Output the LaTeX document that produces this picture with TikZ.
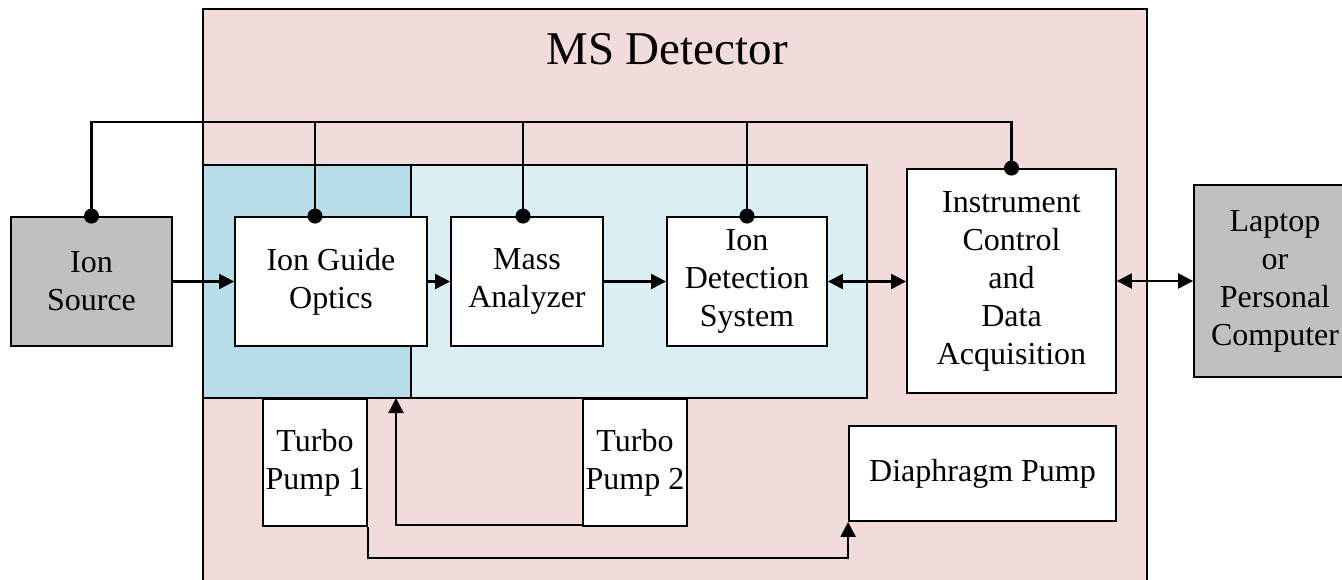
\documentclass[tikz,border=0pt]{standalone}
\usepackage{fontspec}
\setmainfont{Liberation Serif}
\usetikzlibrary{arrows.meta,calc}
\definecolor{mspink}{HTML}{F2DCDB}
\definecolor{darkblue}{HTML}{B7DEE8}
\definecolor{lightblue}{HTML}{DAEEF3}
\definecolor{boxgray}{HTML}{C0C0C0}
\begin{document}
\begin{tikzpicture}[x=1pt,y=-1pt,
  blk/.style={draw=black, line width=1.8pt, fill=white, align=center, inner sep=0pt, font=\fontsize{32}{38}\selectfont},
  conn/.style={line width=2.2pt},
  arr/.style={conn, -{Triangle[length=15pt,width=15pt]}},
  darr/.style={conn, {Triangle[length=15pt,width=15pt]}-{Triangle[length=15pt,width=15pt]}},
  region/.style={draw=black, line width=1.8pt}]
\useasboundingbox (0,0) rectangle (1342,580);
% regions
\draw[region, fill=mspink] (203,9) rectangle (1147,600);
\node[anchor=base, font=\fontsize{47}{56}\selectfont] (title) at (667,65) {MS Detector};
\draw[region, fill=lightblue] (203,165) rectangle (867,398);
\draw[region, fill=darkblue] (203,165) rectangle (411,398);
% blocks
\node[blk, fill=boxgray, minimum width=161pt, minimum height=129pt] (src) at (91.5,281.5) {Ion\\Source};
\node[blk, minimum width=192pt, minimum height=129pt] (igo) at (331,281.5) {Ion Guide\\Optics};
\node[blk, minimum width=152pt, minimum height=129pt] (ma) at (527,281.5) {Mass\\Analyzer};
\node[blk, minimum width=160pt, minimum height=129pt] (ids) at (747,281.5) {Ion\\Detection\\System};
\node[blk, minimum width=209pt, minimum height=224pt] (icd) at (1011.5,281) {Instrument\\Control\\and\\Data\\Acquisition};
\node[blk, fill=boxgray, minimum width=162pt, minimum height=192pt] (pc) at (1275,281) {Laptop\\or\\Personal\\Computer};
\node[blk, minimum width=104pt, minimum height=127pt] (tp1) at (315,462.5) {Turbo\\Pump 1};
\node[blk, minimum width=104pt, minimum height=127pt] (tp2) at (635,462.5) {Turbo\\Pump 2};
\node[blk, minimum width=267pt, minimum height=95pt] (dp) at (982.5,473.5) {Diaphragm Pump};
% control bus
\coordinate (busL) at (91,122);
\coordinate (tigo) at ($(igo.north)+(-16,0)$);
\coordinate (tma) at ($(ma.north)+(-4,0)$);
\draw[conn] (src.north) -- (src.north |- busL) -| (icd.north);
\draw[conn] (tigo) -- (tigo |- busL);
\draw[conn] (tma) -- (tma |- busL);
\draw[conn] (ids.north) -- (ids.north |- busL);
\foreach \p in {src.north, tigo, tma, ids.north, icd.north} \fill (\p) circle (7.5pt);
% ion path
\draw[arr] (src.east) -- (igo.west);
\draw[arr] (igo.east) -- (ma.west);
\draw[arr] (ma.east) -- (ids.west);
\draw[darr] (ids.east) -- (ids.east -| icd.west);
\draw[darr] (icd.east) -- (icd.east -| pc.west);
% vacuum
\coordinate (blueb) at (396,398);
\draw[arr] ($(tp2.south west)+(0,-2)$) -| (blueb);
\draw[arr] (tp1.south east) -- ++(0,31) -| (dp.south west);
\end{tikzpicture}
\end{document}
